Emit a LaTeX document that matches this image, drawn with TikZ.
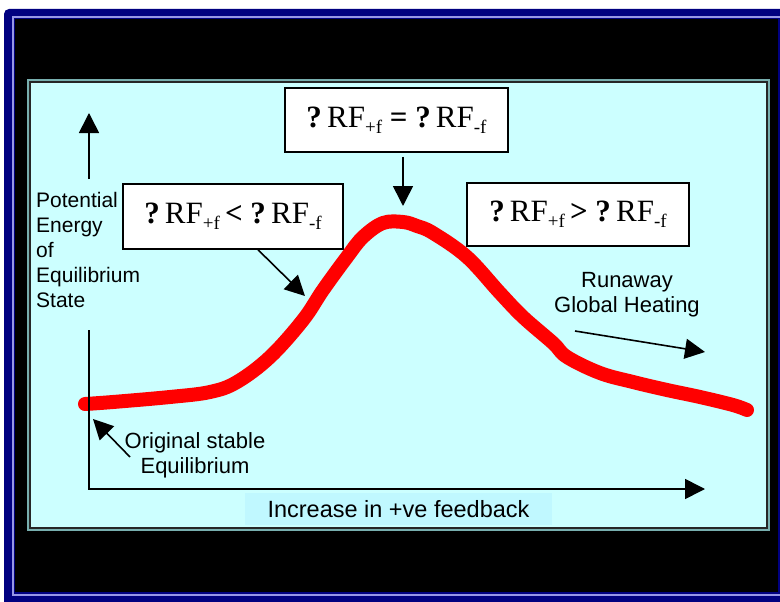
\documentclass[tikz,border=0pt]{standalone}
\usepackage{fontspec}
\setmainfont{Liberation Serif}
\setsansfont{Liberation Sans}
\usetikzlibrary{arrows.meta}
\definecolor{frameblue}{RGB}{0,0,128}
\definecolor{framerim}{RGB}{150,150,230}
\definecolor{panelbg}{RGB}{204,255,255}
\definecolor{panelrim}{RGB}{120,175,175}
\definecolor{tagbg}{RGB}{192,248,255}
\newcommand{\rfterm}[1]{RF\raisebox{-6pt}{\fontsize{19}{19}\selectfont #1}}
\tikzset{
  rfbox/.style={draw, line width=1.5pt, fill=white, inner sep=0pt,
                font=\fontsize{31}{33}\selectfont},
  sflab/.style={align=left, inner sep=0pt, font=\sffamily\fontsize{22}{25}\selectfont},
  arr/.style={-{Triangle[length=20pt, width=20pt]}, line width=1.6pt},
  curve/.style={red, line width=14pt, line cap=round, line join=round},
}
\begin{document}
\begin{tikzpicture}[x=1pt, y=-1pt]
  \useasboundingbox (0,0) rectangle (780,602);
  % frame and panel
  \fill[frameblue, rounded corners=5pt] (4,9) rectangle (790,612);
  \draw[framerim, line width=1.2pt] (790,17) -- (13,17) -- (13,595) -- (790,595);
  \fill[black] (15,19) rectangle (778,592);
  \fill[panelrim] (27,79) rectangle (770,531);
  \filldraw[fill=panelbg, draw=black!85, line width=2.5pt] (30,82) rectangle (767,528);

  \node[rfbox, minimum width=223pt, minimum height=64pt] (eqbox) at (396.5,120)
    {\textbf{?}\,\rfterm{+f} \textbf{=} \textbf{?}\,\rfterm{-f}};
  \node[rfbox, minimum width=220pt, minimum height=65pt] (ltbox) at (233,216.5)
    {\textbf{?}\,\rfterm{+f}\,\textbf{<} \textbf{?}\,\rfterm{-f}};
  \node[rfbox, minimum width=222pt, minimum height=63pt] (gtbox) at (578,214.5)
    {\textbf{?}\,\rfterm{+f}\,\textbf{>} \textbf{?}\,\rfterm{-f}};

  \node[sflab, anchor=north west, font=\sffamily\fontsize{21}{25}\selectfont] (ylab) at (36,192)
    {Potential\\Energy\\of\\Equilibrium\\State};
  \node[sflab, align=center] (runlab) at (627,294.5) {Runaway\\Global Heating};
  \node[sflab, align=center] (origlab) at (195,455) {Original stable\\Equilibrium};
  \node[sflab, fill=tagbg, minimum width=307pt, minimum height=32pt,
        font=\sffamily\fontsize{23.5}{25}\selectfont] (xlab) at (398.5,509)
    {Increase in +ve feedback};

  \coordinate (origin) at (89,489);
  \coordinate (ytop) at (89,330);
  \coordinate (xend) at (705,489);
  \coordinate (uptail) at (89,179);
  \coordinate (uptip) at (89,113);
  \coordinate (peaktip) at (403,206);
  \coordinate (risetip) at (305,296);
  \coordinate (runtail) at (575,331);
  \coordinate (runtip) at (705,352);
  \coordinate (origtail) at (130,457);
  \coordinate (origtip) at (93,419);

  % energy curve
  \draw[curve] plot[smooth, tension=0.6] coordinates {(85,404) (113,402) (170,397)
    (210,392) (237,382) (270,357) (303,320) (323,290) (347,257) (363,237) (383,223)
    (403,222) (417,226) (433,233) (467,257) (500,293) (523,317) (553,343) (567,357)
    (600,373) (633,382) (667,390) (700,397) (733,405) (747,410)};

  \draw[arr] (ytop) -- (origin) -- (xend);
  \draw[arr] (uptail) -- (uptip);
  \draw[arr] ([xshift=6.5pt, yshift=-4pt]eqbox.south) -- (peaktip);
  \draw[arr] ([xshift=25pt]ltbox.south) -- (risetip);
  \draw[arr] (runtail) -- (runtip);
  \draw[arr] (origtail) -- (origtip);
\end{tikzpicture}
\end{document}
